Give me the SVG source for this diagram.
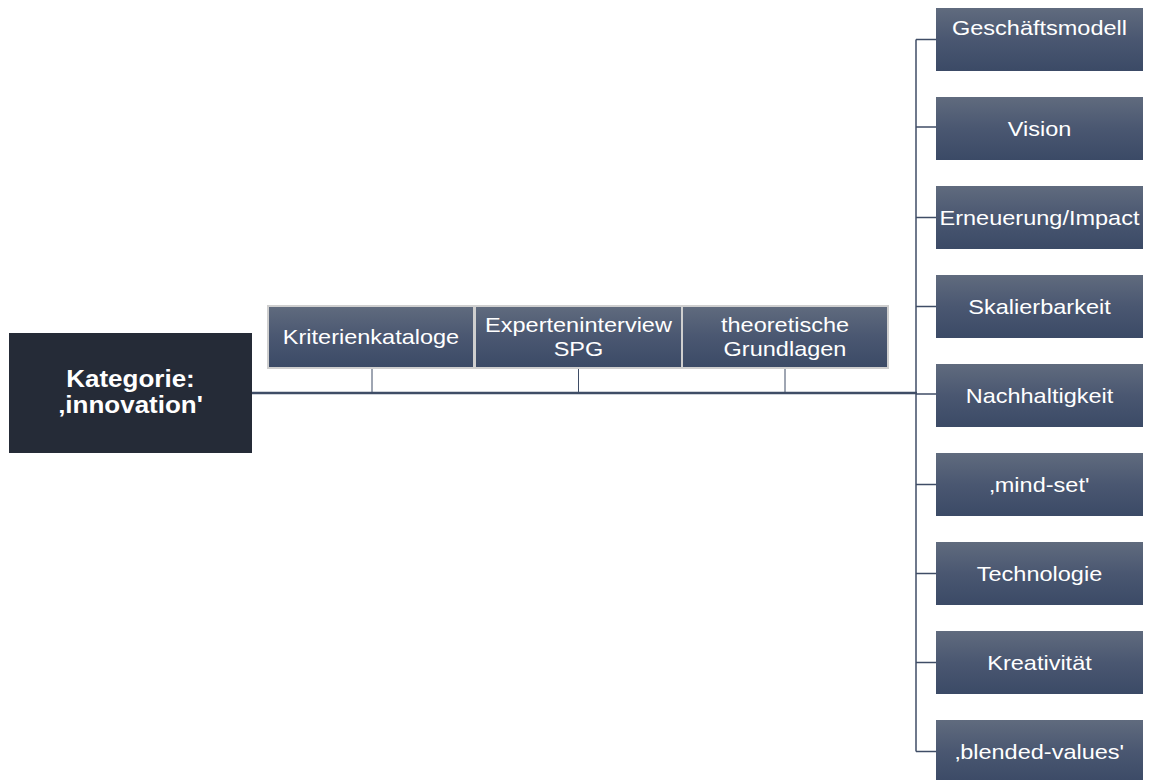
<svg xmlns="http://www.w3.org/2000/svg" width="1149" height="780" viewBox="0 0 1149 780">
<defs>
<linearGradient id="g" x1="0" y1="0" x2="0" y2="1">
<stop offset="0" stop-color="#606b7e"/>
<stop offset="0.5" stop-color="#4a5771"/>
<stop offset="1" stop-color="#3b4a66"/>
</linearGradient>
</defs>
<style>
.box{fill:url(#g);}
.tbox{fill:url(#g);stroke:#cfcfcf;stroke-width:2;}
.root{fill:#252b37;}
.t{font-family:"Liberation Sans",Arial,sans-serif;font-size:21px;fill:#ffffff;text-anchor:middle;}
.rt{font-family:"Liberation Sans",Arial,sans-serif;font-size:23px;font-weight:bold;fill:#ffffff;text-anchor:middle;}
.c{stroke:#3f4d66;fill:none;stroke-width:1.5;}
.main{stroke:#3f4d66;fill:none;stroke-width:2.5;}
.tick{stroke:#3f4d66;fill:none;stroke-width:1;}
</style>
<rect width="1149" height="780" fill="#ffffff"/>
<g id="connectors">
<line class="main" x1="252" y1="393" x2="917" y2="393"/>
<line class="tick" x1="372" y1="368" x2="372" y2="393"/>
<line class="tick" x1="578.5" y1="368" x2="578.5" y2="393"/>
<line class="tick" x1="785" y1="368" x2="785" y2="393"/>
<line class="c" x1="916" y1="39.5" x2="916" y2="751.5"/>
<line class="c" x1="916" y1="39.5" x2="936" y2="39.5"/>
<line class="c" x1="916" y1="127" x2="936" y2="127"/>
<line class="c" x1="916" y1="217.5" x2="936" y2="217.5"/>
<line class="c" x1="916" y1="306.5" x2="936" y2="306.5"/>
<line class="c" x1="916" y1="394" x2="936" y2="394"/>
<line class="c" x1="916" y1="484.5" x2="936" y2="484.5"/>
<line class="c" x1="916" y1="573.5" x2="936" y2="573.5"/>
<line class="c" x1="916" y1="662.5" x2="936" y2="662.5"/>
<line class="c" x1="916" y1="751.5" x2="936" y2="751.5"/>
</g>
<g id="root">
<rect class="root" x="9" y="333" width="243" height="120"/>
<text class="rt" transform="translate(130.5,387) scale(1.13,1)">Kategorie:</text>
<text class="rt" transform="translate(130.5,413) scale(1.13,1)">‚innovation'</text>
</g>
<g id="kriterienkataloge">
<rect class="tbox" x="268" y="306" width="206" height="62"/>
<text class="t" transform="translate(371,344) scale(1.12,1)">Kriterienkataloge</text>
</g>
<g id="experteninterview">
<rect class="tbox" x="475" y="306" width="207" height="62"/>
<text class="t" transform="translate(578.5,332) scale(1.12,1)">Experteninterview</text>
<text class="t" transform="translate(578.5,356) scale(1.12,1)">SPG</text>
</g>
<g id="theoretische">
<rect class="tbox" x="682" y="306" width="206" height="62"/>
<text class="t" transform="translate(785,332) scale(1.12,1)">theoretische</text>
<text class="t" transform="translate(785,356) scale(1.12,1)">Grundlagen</text>
</g>
<g id="geschaeftsmodell">
<rect class="box" x="936" y="8" width="207" height="63"/>
<text class="t" transform="translate(1039.5,35) scale(1.12,1)">Geschäftsmodell</text>
</g>
<g id="vision">
<rect class="box" x="936" y="97" width="207" height="63"/>
<text class="t" transform="translate(1039.5,136) scale(1.12,1)">Vision</text>
</g>
<g id="erneuerung">
<rect class="box" x="936" y="186" width="207" height="63"/>
<text class="t" transform="translate(1039.5,225) scale(1.12,1)">Erneuerung/Impact</text>
</g>
<g id="skalierbarkeit">
<rect class="box" x="936" y="275" width="207" height="63"/>
<text class="t" transform="translate(1039.5,314) scale(1.12,1)">Skalierbarkeit</text>
</g>
<g id="nachhaltigkeit">
<rect class="box" x="936" y="364" width="207" height="63"/>
<text class="t" transform="translate(1039.5,403) scale(1.12,1)">Nachhaltigkeit</text>
</g>
<g id="mindset">
<rect class="box" x="936" y="453" width="207" height="63"/>
<text class="t" transform="translate(1039.5,492) scale(1.12,1)">‚mind-set'</text>
</g>
<g id="technologie">
<rect class="box" x="936" y="542" width="207" height="63"/>
<text class="t" transform="translate(1039.5,581) scale(1.12,1)">Technologie</text>
</g>
<g id="kreativitaet">
<rect class="box" x="936" y="631" width="207" height="63"/>
<text class="t" transform="translate(1039.5,670) scale(1.12,1)">Kreativität</text>
</g>
<g id="blended">
<rect class="box" x="936" y="720" width="207" height="63"/>
<text class="t" transform="translate(1039.5,759) scale(1.12,1)">‚blended-values'</text>
</g>
</svg>
